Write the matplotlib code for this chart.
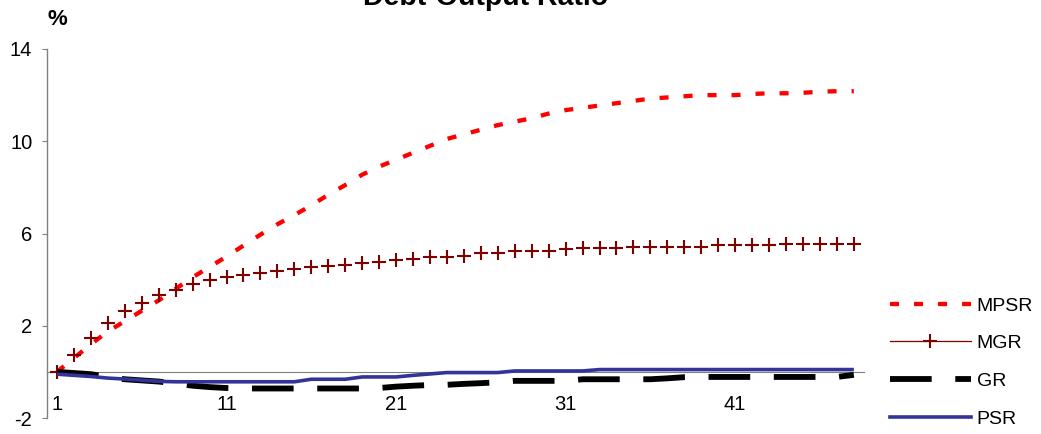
import matplotlib
matplotlib.use("Agg")
import matplotlib.pyplot as plt
from matplotlib.lines import Line2D

plt.rcParams['font.family'] = ['Liberation Sans', 'DejaVu Sans']
plt.rcParams['lines.scale_dashes'] = False

periods = list(range(1, 49))
tick_positions = [1, 11, 21, 31, 41]
tick_labels = ["1", "11", "21", "31", "41"]
y_ticks = [-2, 2, 6, 10, 14]

mpsr = [0.0, 0.6, 1.2, 1.75, 2.2, 2.65, 3.1, 3.6, 4.1, 4.55,
        5.0, 5.48, 5.95, 6.4, 6.8, 7.22, 7.68, 8.1, 8.55, 8.9,
        9.2, 9.5, 9.8, 10.1, 10.3, 10.5, 10.7, 10.85, 11.0, 11.2,
        11.35, 11.45, 11.55, 11.65, 11.75, 11.85, 11.9, 11.95, 12.0, 12.0,
        12.0, 12.05, 12.08, 12.08, 12.1, 12.15, 12.17, 12.17]

mgr = [0.0, 0.72, 1.46, 2.1, 2.62, 2.97, 3.33, 3.57, 3.82, 4.0,
       4.1, 4.2, 4.3, 4.39, 4.48, 4.53, 4.6, 4.63, 4.7, 4.78,
       4.87, 4.9, 4.96, 4.97, 5.04, 5.15, 5.17, 5.22, 5.23, 5.24,
       5.33, 5.35, 5.36, 5.39, 5.4, 5.4, 5.41, 5.42, 5.43, 5.5,
       5.51, 5.52, 5.52, 5.53, 5.53, 5.54, 5.54, 5.55]

gr = [0.0, -0.05, -0.1, -0.22, -0.32, -0.37, -0.42, -0.5, -0.6, -0.66,
      -0.7, -0.72, -0.72, -0.72, -0.72, -0.72, -0.72, -0.72, -0.72, -0.7,
      -0.64, -0.6, -0.57, -0.56, -0.52, -0.49, -0.45, -0.39, -0.39, -0.39,
      -0.39, -0.32, -0.32, -0.32, -0.32, -0.32, -0.28, -0.23, -0.22, -0.22,
      -0.22, -0.22, -0.22, -0.22, -0.22, -0.22, -0.22, -0.13]

psr = [-0.1, -0.15, -0.2, -0.27, -0.31, -0.36, -0.41, -0.43, -0.43, -0.43,
       -0.43, -0.43, -0.43, -0.43, -0.43, -0.32, -0.32, -0.32, -0.22, -0.22,
       -0.22, -0.15, -0.09, -0.03, -0.03, -0.03, -0.03, 0.04, 0.04, 0.04,
       0.04, 0.04, 0.1, 0.1, 0.1, 0.1, 0.1, 0.1, 0.1, 0.1,
       0.1, 0.1, 0.1, 0.1, 0.1, 0.1, 0.1, 0.1]

C_MPSR = '#FF0000'
C_MGR = '#800000'
C_GR = '#000000'
C_PSR = '#333399'

mpsr_ls = (0, (6.5, 10.8))
gr_ls = (0, (30, 17))

fig = plt.figure(figsize=(10.41, 4.34), dpi=100)
ax = fig.add_axes([47/1041, 1-418/434, (864-47)/1041, (418-49)/434])

ax.plot(periods, mpsr, color=C_MPSR, lw=3.1, linestyle=mpsr_ls, zorder=3)
ax.plot(periods, mgr, color=C_MGR, linestyle='none', marker='+', markersize=9.6, mew=1.5, zorder=4)
ax.plot(periods, gr, color=C_GR, lw=4.2, linestyle=gr_ls, zorder=5)
ax.plot(periods, psr, color=C_PSR, lw=2.6, solid_capstyle='butt', zorder=6)

ax.set_xlim(0.41, 48.6)
ax.set_ylim(-2, 14)
ax.set_yticks(y_ticks)
ax.set_yticklabels([str(v) for v in y_ticks])
ax.set_xticks(tick_positions)
ax.set_xticklabels(tick_labels)

for s in ['top', 'right']:
    ax.spines[s].set_visible(False)
ax.spines['bottom'].set_position(('data', 0))
ax.spines['bottom'].set_color('#808080')
ax.spines['bottom'].set_linewidth(0.8)
ax.spines['bottom'].set_zorder(1)
ax.spines['left'].set_color('#808080')
ax.spines['left'].set_linewidth(1.0)

ax.tick_params(axis='y', direction='out', length=3.6, width=0.8, color='#808080',
               pad=7, labelsize=14.5, labelcolor='black')
ax.tick_params(axis='x', length=0, pad=16.5, labelsize=14.5, labelcolor='black')

fig.text(486/1041, 1-5/434, 'Debt-Output Ratio', ha='center', va='baseline',
         fontsize=20.5, fontweight='bold')
fig.text(57/1041, 1-25/434, '%', ha='center', va='baseline',
         fontsize=16, fontweight='bold')

handles = [
    Line2D([], [], color=C_MPSR, lw=3.1, linestyle=mpsr_ls),
    Line2D([], [], color=C_MGR, lw=0.9, marker='+', markersize=9.6, mew=1.5),
    Line2D([], [], color=C_GR, lw=4.2, linestyle=gr_ls),
    Line2D([], [], color=C_PSR, lw=2.6),
]
labels = ['MPSR', 'MGR', 'GR', 'PSR']
fig.legend(handles, labels, loc='upper left', bbox_to_anchor=(890/1041, 1-297/434),
           frameon=False, fontsize=14, handlelength=4.15, handletextpad=0.3,
           labelspacing=1.03, borderpad=0, borderaxespad=0, markerfirst=True)

fig.savefig('out.png', dpi=100)
